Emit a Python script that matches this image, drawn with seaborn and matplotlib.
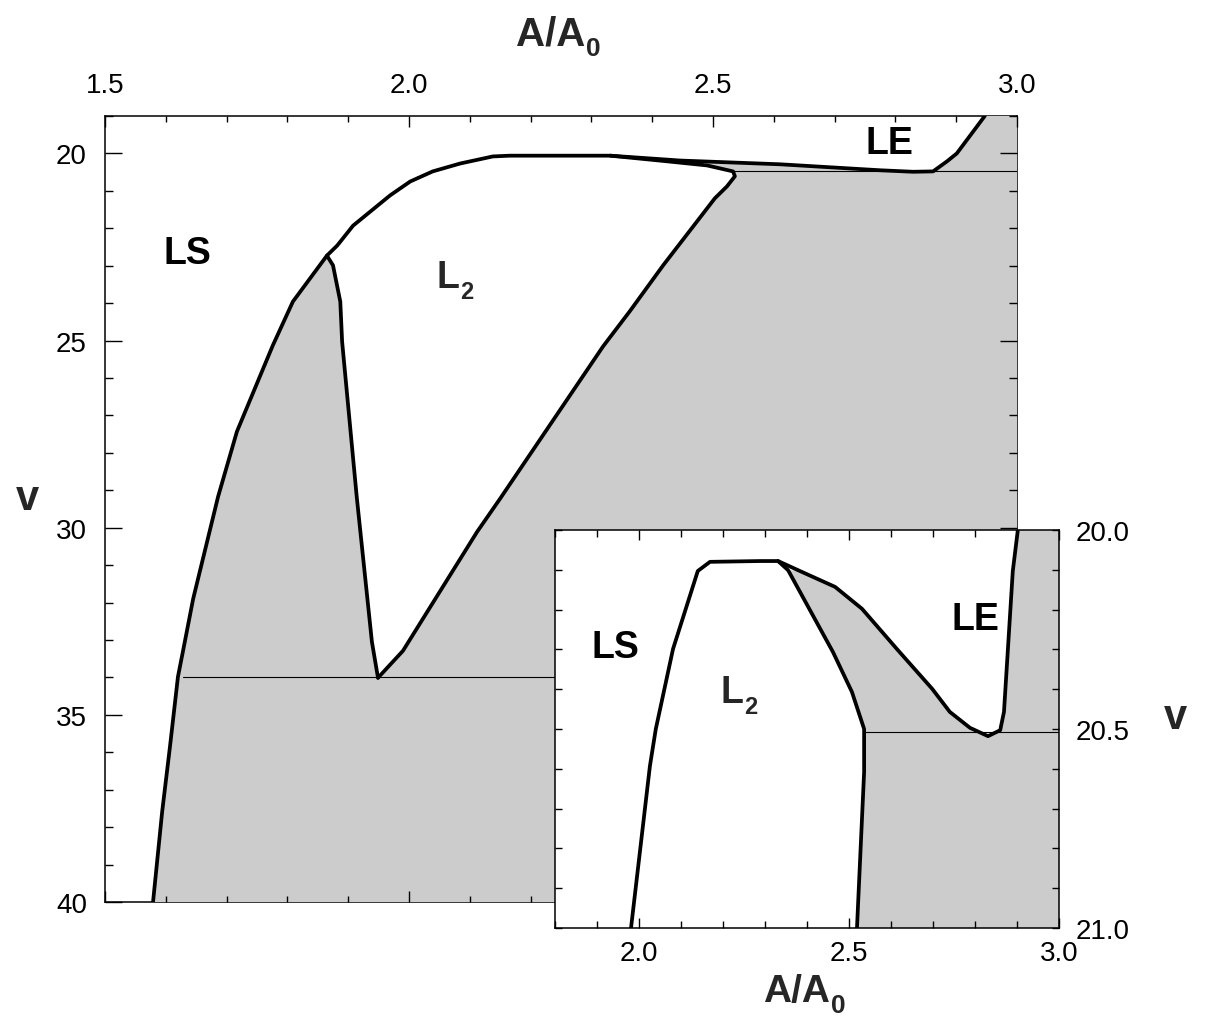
import numpy as np
import pandas as pd
import matplotlib
matplotlib.use("Agg")
import matplotlib.pyplot as plt
import seaborn as sns
from matplotlib.ticker import MultipleLocator

# ─── Données ──────────────────────────────────────────────────
# binodale LS (du bas vers le point de rebroussement)
bin_a = [1.579, 1.594, 1.607, 1.620, 1.628, 1.645, 1.686, 1.717, 1.776, 1.809, 1.865]
bin_v = [40.0, 37.59, 35.83, 33.98, 33.32, 31.90, 29.17, 27.43, 25.13, 23.96, 22.73]

# courbe supérieure commune (rebroussement -> séparation)
top_a = [1.865, 1.882, 1.908, 1.969, 2.002, 2.039, 2.084, 2.138, 2.166, 2.331]
top_v = [22.73, 22.46, 21.93, 21.12, 20.75, 20.48, 20.27, 20.08, 20.06, 20.06]

# frontière LE
le_a = [2.331, 2.446, 2.610, 2.775, 2.829, 2.862, 2.885, 2.901, 2.947]
le_v = [20.06, 20.19, 20.29, 20.45, 20.49, 20.48, 20.21, 20.00, 19.00]

# frontière droite de L2
l2r_a = [2.331, 2.418, 2.490, 2.533, 2.536, 2.523, 2.503, 2.418, 2.363,
         2.319, 2.150, 2.112, 1.990, 1.949]
l2r_v = [20.06, 20.20, 20.32, 20.48, 20.61, 20.88, 21.20, 22.99, 24.22,
         25.16, 29.22, 30.11, 33.29, 34.01]

# frontière gauche de L2
l2l_a = [1.865, 1.875, 1.887, 1.890, 1.914, 1.939, 1.949]
l2l_v = [22.73, 22.99, 23.96, 25.03, 29.17, 33.05, 34.01]

# conodes (v, début en A/A0)
tie_v = [33.98, 20.48]
tie_a = [1.628, 2.533]

# encart
in_ls_a = [1.981, 2.026, 2.040, 2.081, 2.140, 2.169, 2.288, 2.331]
in_ls_v = [21.0, 20.593, 20.500, 20.299, 20.103, 20.080, 20.078, 20.078]
in_l2_a = [2.331, 2.355, 2.462, 2.507, 2.536, 2.536, 2.519]
in_l2_v = [20.078, 20.101, 20.307, 20.407, 20.500, 20.608, 21.0]
in_le_a = [2.331, 2.383, 2.467, 2.531, 2.614, 2.698, 2.740, 2.788, 2.831,
           2.860, 2.869, 2.890, 2.902]
in_le_v = [20.078, 20.103, 20.143, 20.198, 20.299, 20.399, 20.457, 20.497, 20.518,
           20.503, 20.457, 20.103, 20.0]
in_tie_v = 20.508
in_tie_a = 2.536

main_xticks = [1.5, 2.0, 2.5, 3.0]
main_yticks = [20, 25, 30, 35, 40]
in_xticks = [2.0, 2.5, 3.0]
in_yticks = [20.0, 20.5, 21.0]

GRAY = "#cccccc"
TICK_FS = 20

sns.set_style("ticks")
plt.rcParams["font.family"] = ["Liberation Sans", "DejaVu Sans"]

fig = plt.figure(figsize=(12.05, 10.2), dpi=100)
W, H = 1205, 1020


def axes_px(l, t, r, b):
    return [l / W, 1 - b / H, (r - l) / W, (b - t) / H]


def line(ax, xs, ys, lw=2.7):
    df = pd.DataFrame({"a": xs, "v": ys})
    sns.lineplot(data=df, x="a", y="v", sort=False, estimator=None,
                 color="black", lw=lw, ax=ax, zorder=3)


def indice(ax, x, y, main, sub, size, subsize, transform, ha="left"):
    # texte gras avec indice placé sous la ligne de base
    t = ax.text(x, y, main, ha=ha, va="baseline", fontsize=size,
                fontweight="bold", transform=transform, zorder=4, clip_on=False)
    ax.annotate(sub, xy=(1, 0), xycoords=t, xytext=(0.5, -2.5),
                textcoords="offset points", ha="left", va="baseline",
                fontsize=subsize, fontweight="bold", zorder=4,
                annotation_clip=False)
    return t


def style_axis(ax, major_len_x, minor_len_x, major_len_y, minor_len_y):
    ax.set_axisbelow(False)
    for sp in ax.spines.values():
        sp.set_visible(True)
        sp.set_linewidth(1.1)
        sp.set_color("black")
    ax.tick_params(which="both", direction="in", top=True, bottom=True,
                   left=True, right=True, width=1.0, labelsize=TICK_FS, colors="black")
    ax.tick_params(axis="x", which="major", length=major_len_x)
    ax.tick_params(axis="x", which="minor", length=minor_len_x)
    ax.tick_params(axis="y", which="major", length=major_len_y)
    ax.tick_params(axis="y", which="minor", length=minor_len_y)
    ax.set_xlabel("")
    ax.set_ylabel("")


# ─── Axe principal ────────────────────────────────────────────
ax = fig.add_axes(axes_px(105, 117, 1017, 903))
ax.set_facecolor("white")

gray_a = (bin_a[::-1] + [3.0, 3.0] + le_a[::-1][:-1] + l2r_a + l2l_a[::-1][1:])
gray_v = (bin_v[::-1] + [40.0, 19.0] + le_v[::-1][:-1] + l2r_v + l2l_v[::-1][1:])
ax.fill(gray_a, gray_v, color=GRAY, lw=0, zorder=1.5)

for v0, a0 in zip(tie_v, tie_a):
    ax.plot([a0, 3.0], [v0, v0], color="black", lw=0.8, zorder=2)

line(ax, bin_a + top_a[1:] + le_a[1:], bin_v + top_v[1:] + le_v[1:])
line(ax, l2r_a, l2r_v)
line(ax, l2l_a, l2l_v)

ax.set_xlim(1.5, 3.0)
ax.set_ylim(40, 19)
ax.set_xticks(main_xticks)
ax.set_yticks(main_yticks)
ax.xaxis.set_minor_locator(MultipleLocator(0.1))
ax.yaxis.set_minor_locator(MultipleLocator(1))
ax.set_xticklabels([f"{t:.1f}" for t in main_xticks])
ax.set_yticklabels([f"{t:d}" for t in main_yticks])
style_axis(ax, 8, 4.5, 12, 6)
ax.tick_params(labeltop=True, labelbottom=False, labelleft=True, labelright=False)
ax.tick_params(axis="x", pad=13)
ax.tick_params(axis="y", pad=13)
for sp in ax.spines.values():
    sp.set_zorder(1)

bold = dict(fontweight="bold", fontsize=27, color="black")
ax.text(1.635, 22.65, "LS", ha="center", va="center", zorder=4, **bold)
indice(ax, 2.046, 23.56, "L", "2", 27, 17, ax.transData)
ax.text(2.791, 19.73, "LE", ha="center", va="center", zorder=4, **bold)

# ─── Encart ───────────────────────────────────────────────────
ins = fig.add_axes(axes_px(555, 531, 1059, 929))
ins.set_facecolor("white")

in_gray_a = in_l2_a[1:] + [3.0, 3.0] + in_le_a[::-1][:-1]
in_gray_v = in_l2_v[1:] + [21.0, 20.0] + in_le_v[::-1][:-1]
ins.fill(in_gray_a, in_gray_v, color=GRAY, lw=0, zorder=1.5)
ins.plot([in_tie_a, 3.0], [in_tie_v, in_tie_v], color="black", lw=0.8, zorder=2)

line(ins, in_ls_a + in_l2_a[1:], in_ls_v + in_l2_v[1:])
line(ins, in_le_a, in_le_v)

ins.set_xlim(1.8, 3.0)
ins.set_ylim(21.0, 20.0)
ins.set_xticks(in_xticks)
ins.set_yticks(in_yticks)
ins.xaxis.set_minor_locator(MultipleLocator(0.1))
ins.yaxis.set_minor_locator(MultipleLocator(0.1))
ins.set_xticklabels([f"{t:.1f}" for t in in_xticks])
ins.set_yticklabels([f"{t:.1f}" for t in in_yticks])
style_axis(ins, 7, 5, 5, 5)
ins.tick_params(labeltop=False, labelbottom=True, labelleft=False, labelright=True)
ins.tick_params(axis="x", pad=9)
ins.tick_params(axis="y", pad=12)

ins.text(1.943, 20.294, "LS", ha="center", va="center", zorder=4, **bold)
indice(ins, 2.193, 20.432, "L", "2", 27, 17, ins.transData)
ins.text(2.80, 20.224, "LE", ha="center", va="center", zorder=4, **bold)

# ─── Libellés d'axes ──────────────────────────────────────────
indice(ax, 585 / W, 1 - 45 / H, "A/A", "0", 29, 19, fig.transFigure, ha="right")
indice(ins, 830 / W, 1 - 1002 / H, "A/A", "0", 28, 19, fig.transFigure, ha="right")
fig.text(27 / W, 1 - 499 / H, "v", ha="center", va="center", fontsize=30, fontweight="bold")
fig.text(1175 / W, 1 - 718 / H, "v", ha="center", va="center", fontsize=30, fontweight="bold")

fig.savefig("out.png", dpi=100, facecolor="white")
